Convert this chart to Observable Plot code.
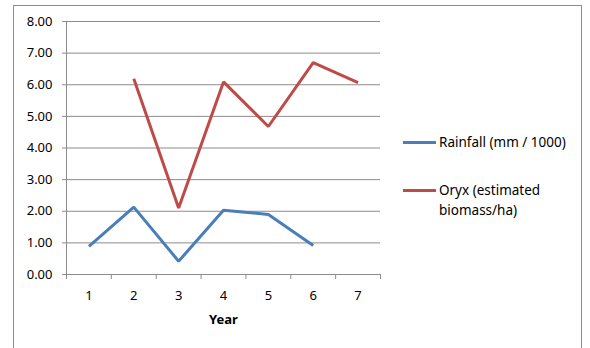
<!DOCTYPE html>
<html><head><meta charset="utf-8">
<script src="https://cdn.jsdelivr.net/npm/d3@7"></script>
<script src="https://cdn.jsdelivr.net/npm/@observablehq/plot@0.6"></script>
<style>
body{margin:0;background:#fff;font-family:"Noto Sans",sans-serif;}
#wrap{position:relative;width:590px;height:348px;overflow:hidden;}
#border{position:absolute;left:13px;top:5px;width:569px;height:360px;border:1px solid #8c8c8c;box-sizing:border-box;}
#chart{position:absolute;left:0;top:0;}
.leg{position:absolute;font-size:13.5px;color:#000;line-height:20px;}
.sw{position:absolute;height:3px;width:33px;}
</style></head>
<body>
<div id="wrap"><div id="border"></div><div id="chart"></div>
<div class="sw" style="left:403px;top:141px;background:#4a7ebb"></div>
<div class="leg" style="left:439px;top:132px">Rainfall (mm / 1000)</div>
<div class="sw" style="left:403px;top:189px;background:#be4b48"></div>
<div class="leg" style="left:439px;top:180px">Oryx (estimated<br>biomass/ha)</div>
</div>
<script>
const years = [1, 2, 3, 4, 5, 6, 7];
const rainfall = [0.89, 2.13, 0.42, 2.03, 1.90, 0.92, null];
const oryx = [null, 6.19, 2.10, 6.09, 4.68, 6.70, 6.07];
const yTicks = [0, 1, 2, 3, 4, 5, 6, 7, 8];
const xBoundaries = [0.5, 1.5, 2.5, 3.5, 4.5, 5.5, 6.5, 7.5];

const rows = [];
years.forEach((yr, i) => {
  if (rainfall[i] != null) rows.push({year: yr, value: rainfall[i], series: "Rainfall (mm / 1000)"});
});
years.forEach((yr, i) => {
  if (oryx[i] != null) rows.push({year: yr, value: oryx[i], series: "Oryx (estimated biomass/ha)"});
});

const chart = Plot.plot({
  width: 590, height: 348,
  marginLeft: 66, marginRight: 210, marginTop: 21, marginBottom: 74,
  style: {fontFamily: "Noto Sans, sans-serif", fontSize: "13px", color: "#000", background: "transparent"},
  x: {type: "linear", domain: [0.5, 7.5]},
  y: {domain: [0, 8]},
  color: {domain: ["Rainfall (mm / 1000)", "Oryx (estimated biomass/ha)"], range: ["#4a7ebb", "#be4b48"]},
  marks: [
    Plot.gridY(yTicks, {stroke: "#8c8c8c", strokeOpacity: 1}),
    Plot.ruleX([0.5], {y1: 0, y2: 8, stroke: "#8c8c8c"}),
    Plot.axisY(yTicks, {tickFormat: d => d.toFixed(2), tickSize: 4, tickPadding: 10, stroke: "#8c8c8c", label: null, fontSize: 13}),
    Plot.axisX(xBoundaries, {tickFormat: () => "", tickSize: 5, stroke: "#8c8c8c", label: null}),
    Plot.axisX(years, {tickFormat: d => String(d), tickSize: 0, tickPadding: 16, label: null, fontSize: 13}),
    Plot.line(rows, {x: "year", y: "value", z: "series", stroke: "series", strokeWidth: 3, strokeLinejoin: "miter", strokeLinecap: "butt"}),
    Plot.text(["Year"], {frameAnchor: "bottom", dy: 49, text: d => d, fontWeight: "bold", fontSize: 13})
  ]
});
document.getElementById("chart").appendChild(chart);
</script>
</body></html>
